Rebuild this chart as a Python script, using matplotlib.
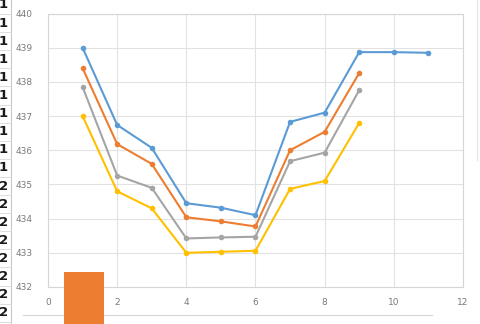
import matplotlib
matplotlib.use("Agg")
import matplotlib.pyplot as plt
from matplotlib.patches import Rectangle
from matplotlib.lines import Line2D

# Series data (x positions and water levels)
x_blue = [1, 2, 3, 4, 5, 6, 7, 8, 9, 10, 11]
y_blue = [439.0, 436.74, 436.07, 434.45, 434.32, 434.1, 436.83, 437.1, 438.87, 438.87, 438.85]

x_main = [1, 2, 3, 4, 5, 6, 7, 8, 9]
y_orange = [438.4, 436.18, 435.6, 434.04, 433.92, 433.77, 436.0, 436.54, 438.26]
y_gray = [437.85, 435.26, 434.9, 433.42, 433.45, 433.47, 435.68, 435.93, 437.76]
y_yellow = [437.0, 434.8, 434.3, 433.0, 433.03, 433.06, 434.87, 435.1, 436.8]

x_ticks = [0, 2, 4, 6, 8, 10, 12]
y_ticks = [432, 433, 434, 435, 436, 437, 438, 439, 440]

# Spreadsheet cell column visible at the left edge
cell_values = ["1"] * 10 + ["2"] * 8

W, H = 481, 324
fig = plt.figure(figsize=(W / 100, H / 100), dpi=100)
fig.patch.set_facecolor("white")

ax = fig.add_axes([48 / W, 1 - 287 / H, (463 - 48) / W, (287 - 13.5) / H])
ax.set_xlim(0, 12)
ax.set_ylim(432, 440)
ax.set_xticks(x_ticks)
ax.set_yticks(y_ticks)
ax.grid(True, color="#E2E2E2", linewidth=0.8)
ax.set_axisbelow(True)
for s in ax.spines.values():
    s.set_color("#D6D6D6")
    s.set_linewidth(0.8)
ax.tick_params(length=0, labelsize=6.5, labelcolor="#7A7A7A")
ax.tick_params(axis="y", pad=11)
ax.tick_params(axis="x", pad=8)

series = [
    (x_blue, y_blue, "#5B9BD5"),
    (x_main, y_orange, "#ED7D31"),
    (x_main, y_gray, "#A5A5A5"),
    (x_main, y_yellow, "#FFC000"),
]
for xs, ys, c in series:
    ax.plot(xs, ys, color=c, linewidth=1.5, marker="o", markersize=4.0,
            markeredgewidth=0, zorder=3)

# Overlay elements in pixel coordinates
ov = fig.add_axes([0, 0, 1, 1])
ov.set_xlim(0, W)
ov.set_ylim(H, 0)
ov.axis("off")
ov.patch.set_alpha(0)

# cell column
ov.add_line(Line2D([11, 11], [0, H], color="#C8C8C8", linewidth=0.8))
row_h = 18.1
for i, v in enumerate(cell_values):
    yc = 5 + i * row_h
    ov.text(8, yc, v, ha="right", va="center", fontsize=9.5,
            fontweight="bold", color="#1A1A1A")
    ov.add_line(Line2D([0, 11], [yc + row_h / 2, yc + row_h / 2],
                       color="#D8D8D8", linewidth=0.6))

# chart frame lines
ov.add_line(Line2D([23, 432], [315, 315], color="#D6D6D6", linewidth=0.8))
ov.add_line(Line2D([477, 477], [0, 160], color="#E4E4E4", linewidth=0.8))

# orange block in the lower left
ov.add_patch(Rectangle((64, 272), 40, 52, facecolor="#ED7D31",
                       edgecolor="none", zorder=5))

fig.savefig("out.png", dpi=100, facecolor="white")
